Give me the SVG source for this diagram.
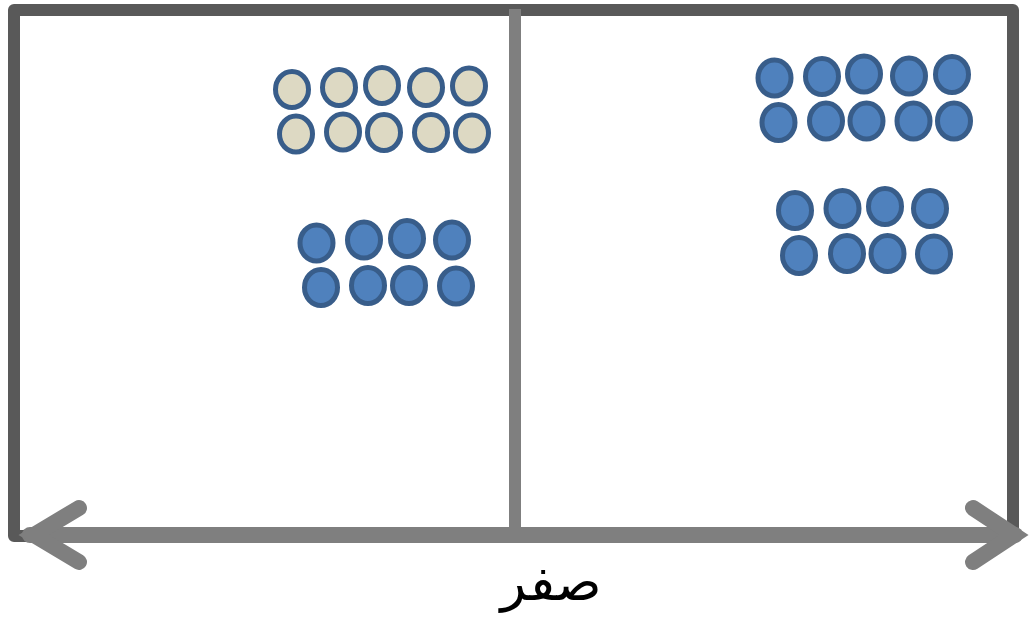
<svg xmlns="http://www.w3.org/2000/svg" width="1034" height="618" viewBox="0 0 1034 618">
<style>
.c{stroke:#385d8a;stroke-width:5}
.b{fill:#4f81bd}
.t{fill:#ddd9c3}
.frame{fill:none;stroke:#595959;stroke-width:12;stroke-linejoin:round}
.div{stroke:#7f7f7f;stroke-width:12}
.ax{fill:none;stroke:#7f7f7f;stroke-width:16;stroke-linecap:round;stroke-linejoin:miter}
.lbl{font-family:"DejaVu Sans","Noto Sans",sans-serif;font-size:53px;fill:#000}
</style>
<rect width="1034" height="618" fill="#fff"/>
<g id="frame">
<rect class="frame" x="14" y="10" width="999" height="526"/>
<line class="div" x1="515" y1="9" x2="515" y2="530"/>
</g>
<g id="group-left-beige">
<ellipse class="c t" cx="292" cy="89.5" rx="16.5" ry="18"/>
<ellipse class="c t" cx="339" cy="87.5" rx="16.5" ry="18"/>
<ellipse class="c t" cx="382" cy="85.5" rx="16.5" ry="18"/>
<ellipse class="c t" cx="426" cy="87.5" rx="16.5" ry="18"/>
<ellipse class="c t" cx="469" cy="86" rx="16.5" ry="18"/>
<ellipse class="c t" cx="296" cy="134" rx="16.5" ry="18"/>
<ellipse class="c t" cx="343" cy="132" rx="16.5" ry="18"/>
<ellipse class="c t" cx="384" cy="132.5" rx="16.5" ry="18"/>
<ellipse class="c t" cx="431" cy="132.5" rx="16.5" ry="18"/>
<ellipse class="c t" cx="472" cy="133" rx="16.5" ry="18"/>
</g>
<g id="group-left-blue">
<ellipse class="c b" cx="316.5" cy="243" rx="16.5" ry="18"/>
<ellipse class="c b" cx="364" cy="240" rx="16.5" ry="18"/>
<ellipse class="c b" cx="407" cy="238.5" rx="16.5" ry="18"/>
<ellipse class="c b" cx="452" cy="240" rx="16.5" ry="18"/>
<ellipse class="c b" cx="321" cy="287.5" rx="16.5" ry="18"/>
<ellipse class="c b" cx="368" cy="285.5" rx="16.5" ry="18"/>
<ellipse class="c b" cx="409" cy="285.5" rx="16.5" ry="18"/>
<ellipse class="c b" cx="456" cy="286" rx="16.5" ry="18"/>
</g>
<g id="group-right-blue-top">
<ellipse class="c b" cx="774.5" cy="78" rx="16.5" ry="18"/>
<ellipse class="c b" cx="822" cy="76.5" rx="16.5" ry="18"/>
<ellipse class="c b" cx="864" cy="74" rx="16.5" ry="18"/>
<ellipse class="c b" cx="909" cy="76" rx="16.5" ry="18"/>
<ellipse class="c b" cx="952" cy="74.5" rx="16.5" ry="18"/>
<ellipse class="c b" cx="778.5" cy="122.5" rx="16.5" ry="18"/>
<ellipse class="c b" cx="826" cy="121" rx="16.5" ry="18"/>
<ellipse class="c b" cx="866.5" cy="121" rx="16.5" ry="18"/>
<ellipse class="c b" cx="913.5" cy="121" rx="16.5" ry="18"/>
<ellipse class="c b" cx="954" cy="121" rx="16.5" ry="18"/>
</g>
<g id="group-right-blue-bottom">
<ellipse class="c b" cx="795" cy="210.5" rx="16.5" ry="18"/>
<ellipse class="c b" cx="842.5" cy="208.5" rx="16.5" ry="18"/>
<ellipse class="c b" cx="885" cy="206.5" rx="16.5" ry="18"/>
<ellipse class="c b" cx="930" cy="208.5" rx="16.5" ry="18"/>
<ellipse class="c b" cx="799" cy="255.5" rx="16.5" ry="18"/>
<ellipse class="c b" cx="847" cy="253.5" rx="16.5" ry="18"/>
<ellipse class="c b" cx="887.5" cy="253.5" rx="16.5" ry="18"/>
<ellipse class="c b" cx="934" cy="254" rx="16.5" ry="18"/>
</g>
<g id="connectors">
<line class="ax" x1="30" y1="535" x2="1015" y2="535" stroke-linecap="butt"/>
<polyline class="ax" points="79,508 34,535 79,562"/>
<polyline class="ax" points="973,508 1014,535 973,562"/>
</g>
<g id="label">
<text class="lbl" x="551" y="600" text-anchor="middle">صفر</text>
</g>
</svg>
